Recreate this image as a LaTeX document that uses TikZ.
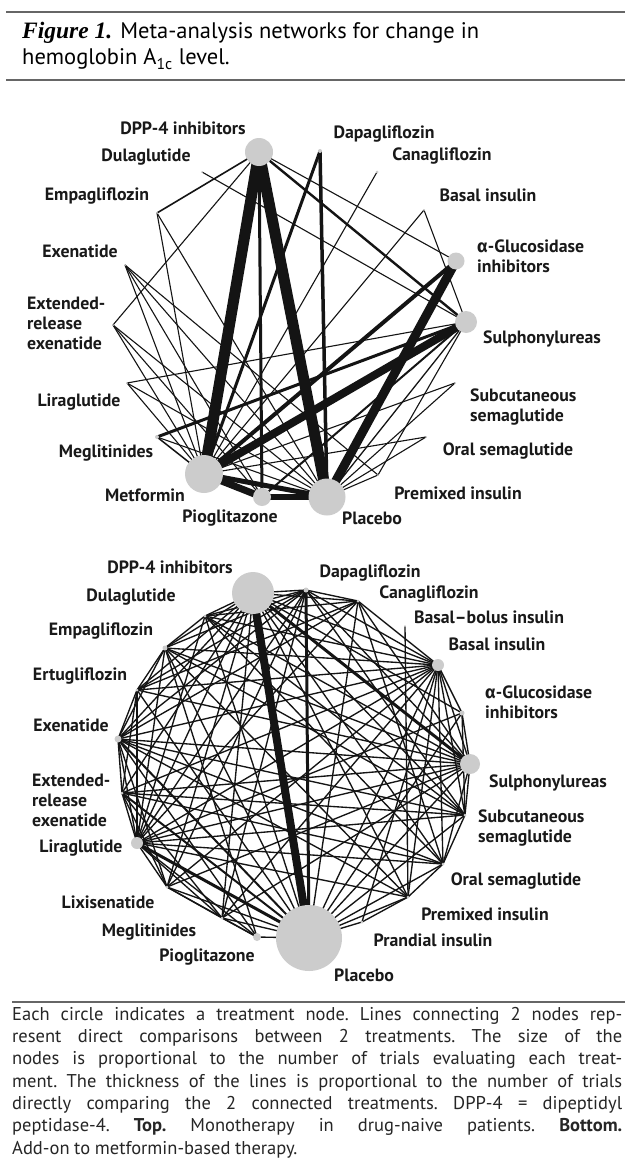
\documentclass[tikz,border=0pt]{standalone}
\usepackage{fontspec}
\setmainfont{PT Sans}
\newfontfamily\figserif{Liberation Serif}
\newfontfamily\grk{Fira Sans}
\pgfdeclarelayer{bg}
\pgfsetlayers{bg,main}
\newcommand\noteline[1]{\hbox to 610pt{#1}}
\begin{document}
\begin{tikzpicture}[x=1pt,y=-1pt,
  nd/.style={circle,fill=gray!40,draw=none,inner sep=0pt,minimum size=#1},
  lnk/.style={line width=#1,draw=black!92},
  lnk/.default=1.2,
  lab/.style={font=\fontsize{17.8}{20}\selectfont\bfseries,inner sep=0pt,text=black!90},
  mlab/.style={lab,align=left,anchor=west},
  hrule/.style={line width=2pt,draw=black!60}]
\path[use as bounding box] (0,0) rectangle (632,1164);
\begin{pgfonlayer}{bg}
\fill[white] (0,0) rectangle (632,1164);
\end{pgfonlayer}

% rules
\draw[hrule] (6,12) -- (625,12);
\draw[hrule] (6,80) -- (625,80);
\draw[hrule] (12,1002) -- (625,1002);

% title
\node[anchor=base west,inner sep=0pt,font=\fontsize{22.5}{27}\selectfont] (cap1) at (22,38)
  {{\figserif\bfseries\itshape\fontsize{23.5}{27}\selectfont Figure 1.} Meta-analysis networks for change in};
\node[anchor=base west,inner sep=0pt,font=\fontsize{22.5}{27}\selectfont] (cap2) at (22,65)
  {hemoglobin A\textsubscript{1c} level.};

% ---------------- TOP NETWORK ----------------
\node[nd=28] (tDPP) at (259,152) {};
\node[nd=4] (tDapa) at (320,151) {};
\node[nd=3] (tCana) at (377,172) {};
\node[nd=2] (tBasal) at (424,210) {};
\node[nd=17] (tAG) at (456,261) {};
\node[nd=22] (tSU) at (466,322) {};
\node[nd=2] (tSubS) at (455,383) {};
\node[nd=2] (tOralS) at (426,437) {};
\node[nd=2] (tPremix) at (378,475) {};
\node[nd=37] (tPlac) at (327,497) {};
\node[nd=18] (tPio) at (262,497) {};
\node[nd=38] (tMet) at (204,474) {};
\node[nd=4] (tMeg) at (157,437) {};
\node[nd=2] (tLira) at (127,383) {};
\node[nd=2] (tERE) at (113,325) {};
\node[nd=2] (tExe) at (125,265) {};
\node[nd=2] (tEmpa) at (157,213) {};
\node[nd=2] (tDula) at (202,172) {};

\begin{pgfonlayer}{bg}
\foreach \a/\b/\w in {DPP/Met/11, DPP/Plac/11, DPP/Pio/3, DPP/Empa/1.6, DPP/ERE/1.1,
  DPP/AG/1.1, DPP/SU/2.4, Dula/SU/1.1, Dapa/Plac/3.5, Dapa/Met/3, Cana/Met/1.1,
  Basal/Met/1.1, Basal/SU/1.1, AG/Plac/9, AG/Met/4, SU/Met/8, SU/Pio/2, SU/Plac/1.3,
  SU/Meg/3, SU/Lira/1.1, Empa/Met/1.1, Empa/Plac/1.1, Exe/Met/1.1, Exe/Pio/1.1,
  Exe/Plac/1.1, Exe/Premix/1.1, ERE/Met/1.1, ERE/Pio/1.1, ERE/Plac/1.1, Lira/Met/1.1,
  Lira/Plac/1.1, Meg/Met/1.5, Meg/Plac/1.1, Met/Pio/7, Pio/Plac/6, Met/Plac/5,
  SubS/Plac/1.1, SubS/Met/1.1, OralS/Plac/1.1, OralS/Met/1.1, Premix/Plac/1.1,
  Premix/SU/1.1}
  \draw[lnk=\w] (t\a.center) -- (t\b.center);
\end{pgfonlayer}

\node[lab] (tlDPP) at (183,128) {DPP-4 inhibitors};
\node[lab] (tlDapa) at (384,134) {Dapagliflozin};
\node[lab] (tlDula) at (146,157) {Dulaglutide};
\node[lab] (tlCana) at (442,156) {Canagliflozin};
\node[lab] (tlEmpa) at (97,196) {Empagliflozin};
\node[lab] (tlBasal) at (488,195) {Basal insulin};
\node[mlab] (tlAG) at (477,256) {{\grk α}-Glucosidase\\inhibitors};
\node[lab] (tlExe) at (80,251) {Exenatide};
\node[mlab] (tlERE) at (27,323) {Extended-\\release\\exenatide};
\node[lab] (tlSU) at (542,339) {Sulphonylureas};
\node[lab] (tlLira) at (79,402) {Liraglutide};
\node[mlab] (tlSubS) at (470,407) {Subcutaneous\\semaglutide};
\node[lab] (tlMeg) at (106,453) {Meglitinides};
\node[lab] (tlOralS) at (508,451) {Oral semaglutide};
\node[lab] (tlMet) at (145,495) {Metformin};
\node[lab] (tlPremix) at (458,493) {Premixed insulin};
\node[lab] (tlPio) at (230,518) {Pioglitazone};
\node[lab] (tlPlac) at (372,518) {Placebo};

% ---------------- BOTTOM NETWORK ----------------
\node[nd=42] (bDPP) at (253,593) {};
\node[nd=5] (bDapa) at (306,590) {};
\node[nd=3] (bCana) at (358,601) {};
\node[nd=2] (bBB) at (405,626) {};
\node[nd=12] (bBasal) at (438,665) {};
\node[nd=5] (bAG) at (462,713) {};
\node[nd=20] (bSU) at (470,764) {};
\node[nd=3] (bSubS) at (465,815) {};
\node[nd=3] (bOralS) at (443,864) {};
\node[nd=3] (bPremix) at (408,897) {};
\node[nd=3] (bPrand) at (362,922) {};
\node[nd=66] (bPlac) at (309,938) {};
\node[nd=8] (bPio) at (257,937) {};
\node[nd=3] (bMeg) at (222,918) {};
\node[nd=3] (bLixi) at (167,887) {};
\node[nd=12] (bLira) at (137,843) {};
\node[nd=3] (bERE) at (122,793) {};
\node[nd=7] (bExe) at (118,739) {};
\node[nd=3] (bErtu) at (137,690) {};
\node[nd=5] (bEmpa) at (165,648) {};
\node[nd=3] (bDula) at (205,616) {};

\begin{pgfonlayer}{bg}
\foreach \a/\bs in {
  Plac/{Cana,Basal,AG,SU,SubS,OralS,Premix,Prand,Pio,Meg,Lixi,Ertu,Empa,Dula},
  DPP/{Dapa,Cana,Basal,AG,SubS,Empa,Ertu,Exe,Dula,Lira,ERE,Meg,Premix,OralS,Lixi},
  Dapa/{Cana,Basal,SU,Empa,Ertu,Exe,Lira,Dula,Lixi,SubS,Meg},
  Cana/{Basal,SU,Dula,Exe,Lira,OralS,Ertu},
  BB/{Premix},
  Basal/{AG,SU,SubS,OralS,Premix,Prand,Empa,Ertu,Exe,Lira,ERE,Dula,Lixi,Meg},
  AG/{SU,SubS,Lira},
  SU/{SubS,OralS,Empa,Ertu,Exe,ERE,Lira,Dula,Lixi,Meg},
  SubS/{OralS,Exe,Lira,ERE,Empa,Dula},
  OralS/{Premix,Lira,ERE,Exe,Dula},
  Premix/{Prand,Lira,Exe,Empa},
  Lira/{ERE,Exe,Lixi,Meg,Empa,Ertu,Dula,Pio},
  Exe/{ERE,Ertu,Lixi,Empa,Pio},
  ERE/{Ertu,Lixi,Meg},
  Empa/{Ertu,Dula,Pio},
  Meg/{Pio},
  Lixi/{Meg,Pio}}
  {\foreach \b in \bs {\draw[lnk=1.35] (b\a.center) -- (b\b.center);}}
\foreach \a/\b/\w in {DPP/Plac/8, Dapa/Plac/3, Lira/Plac/3, ERE/Plac/2, Exe/Plac/2, DPP/SU/3}
  \draw[lnk=\w] (b\a.center) -- (b\b.center);
\end{pgfonlayer}

\node[lab] (blDPP) at (170,567) {DPP-4 inhibitors};
\node[lab] (blDapa) at (370,573) {Dapagliflozin};
\node[lab] (blDula) at (131,597) {Dulaglutide};
\node[lab] (blCana) at (429,594) {Canagliflozin};
\node[lab] (blBB) at (489,617) {Basal–bolus insulin};
\node[lab] (blEmpa) at (101,631) {Empagliflozin};
\node[lab] (blBasal) at (497,644) {Basal insulin};
\node[lab] (blErtu) at (80,676) {Ertugliflozin};
\node[mlab] (blAG) at (485,702) {{\grk α}-Glucosidase\\inhibitors};
\node[lab] (blExe) at (71,725) {Exenatide};
\node[mlab] (blERE) at (32,800) {Extended-\\release\\exenatide};
\node[lab] (blSU) at (548,783) {Sulphonylureas};
\node[mlab] (blSubS) at (478,828) {Subcutaneous\\semaglutide};
\node[lab] (blLira) at (81,848) {Liraglutide};
\node[lab] (blOralS) at (516,881) {Oral semaglutide};
\node[lab] (blLixi) at (108,902) {Lixisenatide};
\node[lab] (blPremix) at (485,914) {Premixed insulin};
\node[lab] (blMeg) at (149,932) {Meglitinides};
\node[lab] (blPrand) at (433,940) {Prandial insulin};
\node[lab] (blPio) at (207,957) {Pioglitazone};
\node[lab] (blPlac) at (364,975) {Placebo};

% ---------------- NOTE ----------------
\node[anchor=north west,inner sep=0pt,text=black!85,
      font=\fontsize{18.5}{22.3}\selectfont] (note) at (12,1007) {%
\vbox{\spaceskip=0.25em plus 1em minus 0.08em \xspaceskip=\spaceskip
\baselineskip=22.3pt\hsize=610pt
\noteline{Each circle indicates a treatment node. Lines connecting 2 nodes rep-}
\noteline{resent direct comparisons between 2 treatments. The size of the}
\noteline{nodes is proportional to the number of trials evaluating each treat-}
\noteline{ment. The thickness of the lines is proportional to the number of trials}
\noteline{directly comparing the 2 connected treatments. DPP-4 = dipeptidyl}
\noteline{peptidase-4. \textbf{Top.} Monotherapy in drug-naive patients. \textbf{Bottom.}}
\hbox{Add-on to metformin-based therapy.}}};
\end{tikzpicture}
\end{document}
